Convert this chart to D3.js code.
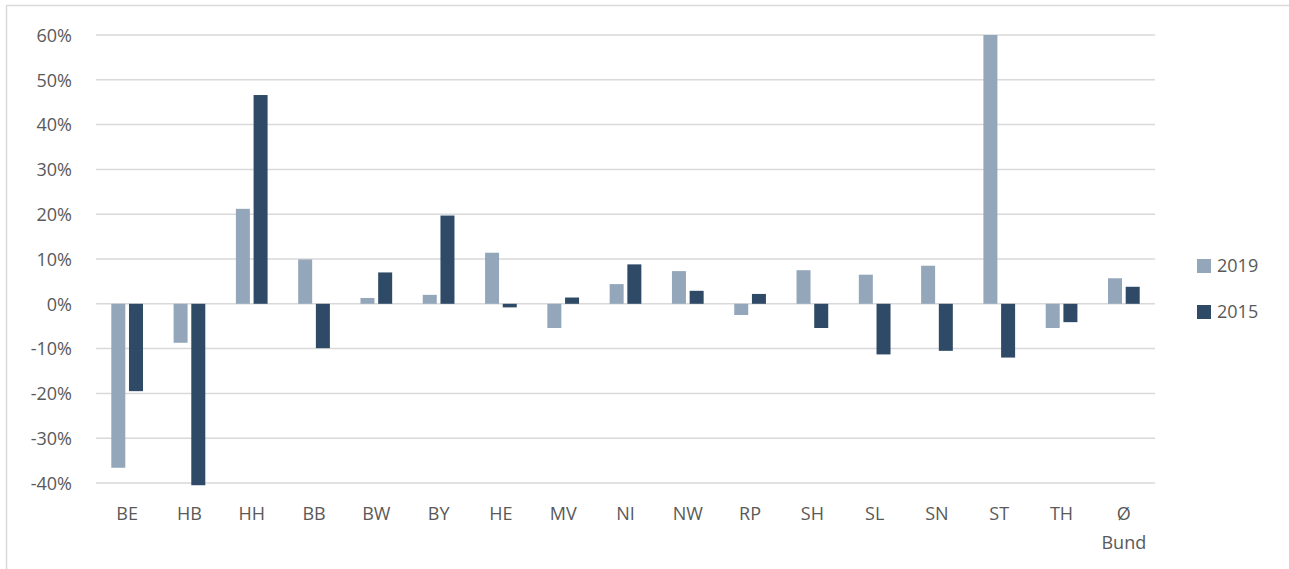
<!DOCTYPE html>
<html>
<head>
<meta charset="utf-8">
<script src="https://cdn.jsdelivr.net/npm/d3@7"></script>
<style>
  body { margin: 0; background: #fff; }
  text { font-family: "Open Sans", Lato, sans-serif; fill: #595959; }
</style>
</head>
<body>
<div id="chart"></div>
<script>
// data
var categories = ["BE", "HB", "HH", "BB", "BW", "BY", "HE", "MV", "NI", "NW", "RP", "SH", "SL", "SN", "ST", "TH", "Ø|Bund"];
var values2019 = [-36.6, -8.7, 21.2, 9.9, 1.3, 2.0, 11.4, -5.4, 4.4, 7.3, -2.5, 7.5, 6.5, 8.5, 60.0, -5.4, 5.7];
var values2015 = [-19.5, -40.5, 46.6, -9.9, 7.0, 19.7, -0.8, 1.4, 8.8, 2.9, 2.2, -5.4, -11.3, -10.5, -12.0, -4.1, 3.8];
var seriesNames = ["2019", "2015"];
var colors = ["#94a7ba", "#2e4a66"];
var yTicks = [-40, -30, -20, -10, 0, 10, 20, 30, 40, 50, 60];

var W = 1289, H = 569;

var svg = d3.select("#chart")
  .append("svg")
  .attr("width", W)
  .attr("height", H);

// outer chart border
svg.append("rect")
  .attr("x", 6.5).attr("y", 5.5)
  .attr("width", W).attr("height", H)
  .attr("fill", "none")
  .attr("stroke", "#d9d9d9")
  .attr("stroke-width", 1.5);

var x = d3.scaleBand()
  .domain(categories)
  .range([96, 1155]);

var y = d3.scaleLinear()
  .domain([-40, 60])
  .range([483, 35]);

// gridlines
svg.append("g")
  .selectAll("line")
  .data(yTicks)
  .enter().append("line")
  .attr("x1", 96).attr("x2", 1155)
  .attr("y1", function(d) { return y(d); })
  .attr("y2", function(d) { return y(d); })
  .attr("stroke", "#d9d9d9")
  .attr("stroke-width", 1.5);

// y axis labels
var yAxis = d3.axisLeft(y)
  .tickValues(yTicks)
  .tickSize(0)
  .tickPadding(0)
  .tickFormat(function(d) { return d + "%"; });
var gy = svg.append("g")
  .attr("transform", "translate(72,0)")
  .call(yAxis);
gy.select(".domain").remove();
gy.selectAll("text")
  .style("font-size", "18px")
  .style("font-family", "'Open Sans', Lato, sans-serif")
  .attr("fill", "#595959")
  .attr("dy", "0.35em");

// bars
var barW = 14, pairGap = 3.7;
var series = [values2019, values2015];
series.forEach(function(vals, si) {
  svg.append("g")
    .selectAll("rect")
    .data(vals)
    .enter().append("rect")
    .attr("x", function(d, i) {
      var c = x(categories[i]) + x.bandwidth() / 2;
      return si === 0 ? c - pairGap / 2 - barW : c + pairGap / 2;
    })
    .attr("y", function(d) { return y(Math.max(0, d)); })
    .attr("width", barW)
    .attr("height", function(d) { return Math.abs(y(d) - y(0)); })
    .attr("fill", colors[si]);
});

// x labels
var gx = svg.append("g");
categories.forEach(function(c) {
  var parts = c.split("|");
  var t = gx.append("text")
    .attr("x", x(c) + x.bandwidth() / 2)
    .attr("y", 520)
    .attr("text-anchor", "middle")
    .style("font-size", "18px");
  parts.forEach(function(p, k) {
    t.append("tspan")
      .attr("x", x(c) + x.bandwidth() / 2)
      .attr("dy", k === 0 ? 0 : 29)
      .text(p);
  });
});

// legend
var legend = svg.append("g");
seriesNames.forEach(function(n, i) {
  var ly = 266 + i * 46;
  legend.append("rect")
    .attr("x", 1197).attr("y", ly - 7)
    .attr("width", 14).attr("height", 14)
    .attr("fill", colors[i]);
  legend.append("text")
    .attr("x", 1217).attr("y", ly)
    .attr("dy", "0.35em")
    .style("font-size", "18px")
    .text(n);
});
</script>
</body>
</html>
